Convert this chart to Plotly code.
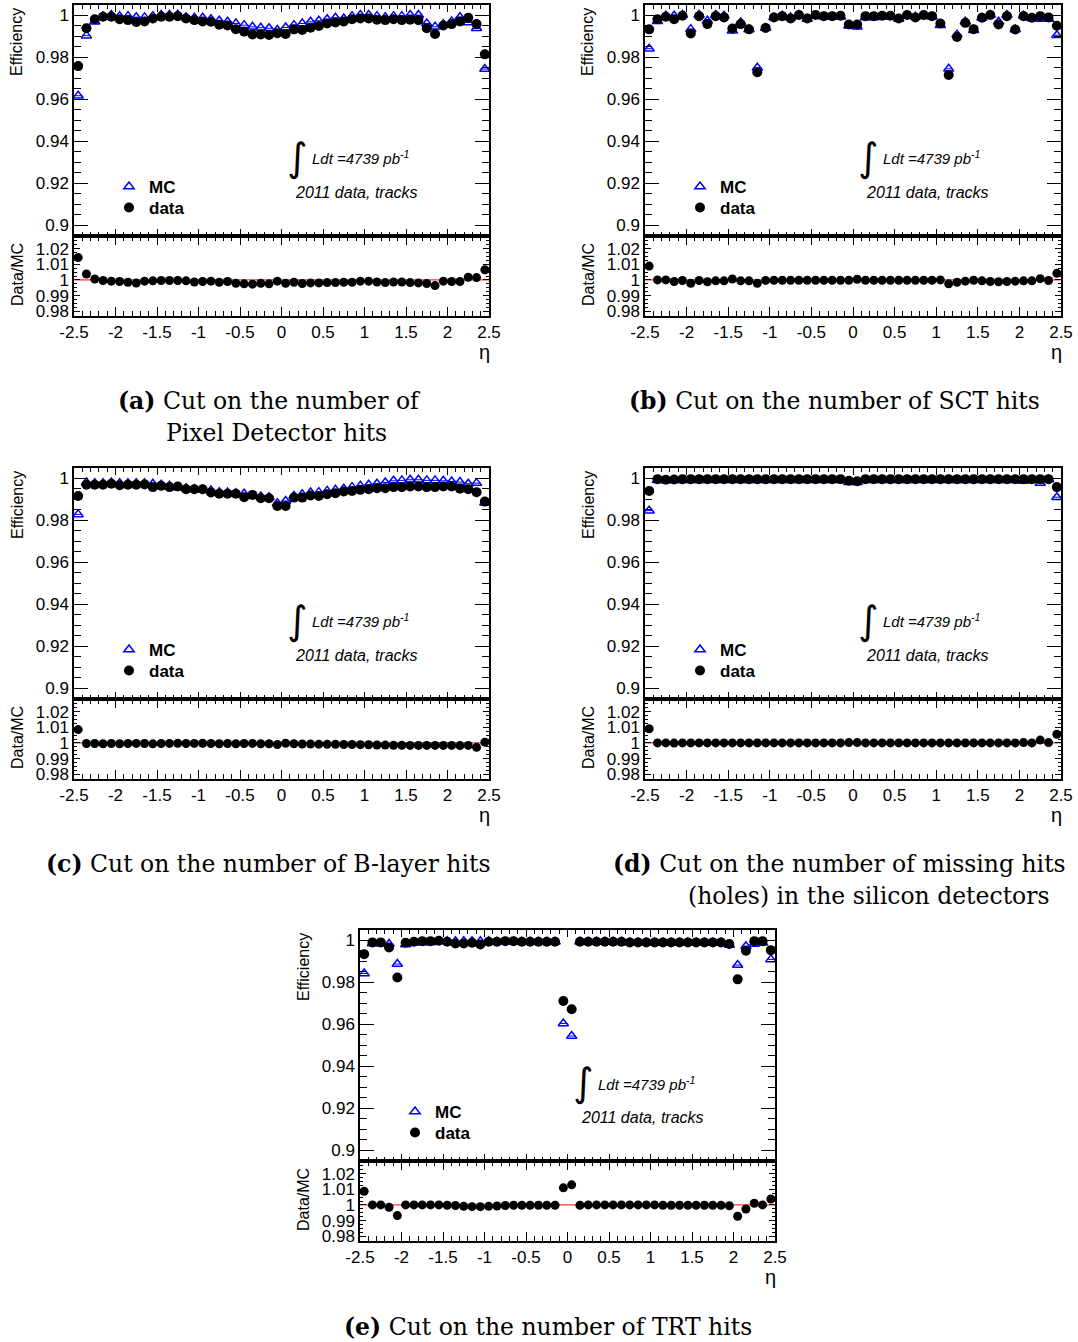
import plotly.graph_objects as go

# ---------------- data ----------------
eta = [-2.45, -2.35, -2.25, -2.15, -2.05, -1.95, -1.85, -1.75, -1.65, -1.55,
       -1.45, -1.35, -1.25, -1.15, -1.05, -0.95, -0.85, -0.75, -0.65, -0.55,
       -0.45, -0.35, -0.25, -0.15, -0.05, 0.05, 0.15, 0.25, 0.35, 0.45,
       0.55, 0.65, 0.75, 0.85, 0.95, 1.05, 1.15, 1.25, 1.35, 1.45,
       1.55, 1.65, 1.75, 1.85, 1.95, 2.05, 2.15, 2.25, 2.35, 2.45]

x_tick_vals = [-2.5, -2, -1.5, -1, -0.5, 0, 0.5, 1, 1.5, 2, 2.5]
x_tick_text = ["-2.5", "-2", "-1.5", "-1", "-0.5", "0", "0.5", "1", "1.5", "2", "2.5"]
eff_tick_vals = [0.9, 0.92, 0.94, 0.96, 0.98, 1.0]
eff_tick_text = ["0.9", "0.92", "0.94", "0.96", "0.98", "1"]
ratio_tick_vals = [0.98, 0.99, 1.0, 1.01, 1.02]
ratio_tick_text = ["0.98", "0.99", "1", "1.01", "1.02"]

# (a) Pixel hits
data_a = [0.9757, 0.9937, 0.9980, 0.9992, 0.9992, 0.9980, 0.9976, 0.9967, 0.9970, 0.9984,
          0.9992, 0.9992, 0.9995, 0.9984, 0.9976, 0.9970, 0.9968, 0.9954, 0.9950, 0.9933,
          0.9921, 0.9908, 0.9908, 0.9905, 0.9914, 0.9910, 0.9932, 0.9929, 0.9940, 0.9948,
          0.9960, 0.9965, 0.9970, 0.9980, 0.9984, 0.9984, 0.9978, 0.9976, 0.9980, 0.9976,
          0.9978, 0.9976, 0.9937, 0.9910, 0.9950, 0.9957, 0.9970, 0.9987, 0.9957, 0.9813]
mc_a = [0.9616, 0.9902, 0.9968, 0.9995, 1.0000, 0.9995, 0.9995, 0.9990, 0.9989, 0.9995,
        1.0000, 1.0000, 1.0002, 0.9990, 0.9987, 0.9987, 0.9980, 0.9973, 0.9968, 0.9960,
        0.9952, 0.9944, 0.9940, 0.9937, 0.9929, 0.9941, 0.9952, 0.9960, 0.9968, 0.9973,
        0.9980, 0.9987, 0.9984, 0.9995, 1.0000, 1.0000, 0.9995, 0.9990, 0.9995, 0.9995,
        1.0000, 1.0000, 0.9960, 0.9944, 0.9957, 0.9970, 0.9990, 0.9965, 0.9937, 0.9743]
ratio_a = [1.0143, 1.0038, 1.0006, 0.9996, 0.9992, 0.9990, 0.9985, 0.9980, 0.9992, 0.9994,
           0.9996, 0.9996, 0.9996, 0.9994, 0.9987, 0.9990, 0.9992, 0.9985, 0.9990, 0.9979,
           0.9975, 0.9973, 0.9979, 0.9975, 0.9992, 0.9979, 0.9985, 0.9977, 0.9981, 0.9981,
           0.9983, 0.9983, 0.9985, 0.9985, 0.9992, 0.9992, 0.9987, 0.9983, 0.9987, 0.9987,
           0.9983, 0.9981, 0.9977, 0.9964, 0.9992, 0.9990, 0.9990, 1.0017, 1.0015, 1.0065]

# (b) SCT hits
data_b = [0.9932, 0.9980, 0.9992, 0.9980, 0.9997, 0.9912, 0.9995, 0.9957, 0.9995, 0.9989,
          0.9936, 0.9957, 0.9932, 0.9728, 0.9939, 0.9989, 0.9995, 0.9984, 1.0000, 0.9984,
          1.0000, 0.9995, 0.9995, 0.9997, 0.9955, 0.9955, 0.9995, 0.9995, 0.9997, 0.9997,
          0.9984, 1.0000, 0.9989, 1.0000, 0.9995, 0.9960, 0.9715, 0.9896, 0.9963, 0.9933,
          0.9987, 1.0000, 0.9955, 0.9995, 0.9931, 0.9995, 0.9987, 0.9995, 0.9989, 0.9949]
mc_b = [0.9840, 0.9971, 0.9997, 0.9997, 1.0000, 0.9933, 1.0000, 0.9973, 1.0000, 0.9997,
        0.9925, 0.9965, 0.9931, 0.9749, 0.9939, 0.9989, 0.9997, 0.9989, 1.0000, 0.9981,
        0.9997, 0.9992, 0.9992, 0.9992, 0.9949, 0.9944, 0.9989, 0.9989, 0.9992, 0.9992,
        0.9981, 0.9997, 0.9992, 0.9997, 0.9992, 0.9952, 0.9744, 0.9907, 0.9968, 0.9928,
        0.9987, 1.0000, 0.9968, 1.0000, 0.9931, 0.9997, 0.9984, 0.9981, 0.9981, 0.9904]
ratio_b = [1.0088, 1.0000, 1.0000, 0.9990, 0.9996, 0.9979, 0.9996, 0.9988, 0.9994, 0.9994,
           1.0006, 0.9994, 0.9994, 0.9979, 0.9997, 0.9998, 0.9998, 0.9998, 0.9998, 0.9998,
           0.9998, 0.9998, 0.9998, 0.9998, 0.9998, 1.0004, 0.9998, 0.9998, 0.9998, 0.9998,
           0.9998, 0.9998, 0.9998, 0.9998, 0.9998, 1.0000, 0.9975, 0.9985, 0.9992, 0.9998,
           0.9994, 0.9990, 0.9988, 0.9990, 0.9992, 0.9994, 0.9994, 1.0008, 0.9996, 1.0042]

# (c) B-layer hits
data_c = [0.9915, 0.9968, 0.9968, 0.9968, 0.9973, 0.9966, 0.9968, 0.9968, 0.9970, 0.9957,
          0.9963, 0.9957, 0.9960, 0.9947, 0.9947, 0.9947, 0.9931, 0.9925, 0.9925, 0.9925,
          0.9909, 0.9920, 0.9904, 0.9904, 0.9867, 0.9867, 0.9907, 0.9907, 0.9917, 0.9915,
          0.9923, 0.9928, 0.9936, 0.9939, 0.9944, 0.9947, 0.9952, 0.9952, 0.9957, 0.9957,
          0.9960, 0.9960, 0.9957, 0.9957, 0.9960, 0.9960, 0.9949, 0.9947, 0.9933, 0.9888]
mc_c = [0.9827, 0.9979, 0.9976, 0.9976, 0.9979, 0.9976, 0.9976, 0.9976, 0.9976, 0.9973,
        0.9968, 0.9963, 0.9955, 0.9952, 0.9947, 0.9944, 0.9941, 0.9933, 0.9931, 0.9928,
        0.9925, 0.9915, 0.9912, 0.9909, 0.9880, 0.9891, 0.9915, 0.9923, 0.9931, 0.9933,
        0.9939, 0.9944, 0.9949, 0.9957, 0.9963, 0.9968, 0.9973, 0.9979, 0.9987, 0.9989,
        0.9992, 0.9992, 0.9989, 0.9989, 0.9987, 0.9984, 0.9981, 0.9973, 0.9976, 0.9883]
ratio_c = [1.0085, 0.9996, 0.9996, 0.9995, 0.9996, 0.9995, 0.9996, 0.9997, 0.9996, 0.9994,
           0.9996, 0.9997, 0.9998, 0.9996, 0.9997, 0.9998, 0.9996, 0.9995, 0.9996, 0.9995,
           0.9996, 0.9997, 0.9995, 0.9995, 0.9990, 0.9998, 0.9995, 0.9993, 0.9993, 0.9992,
           0.9991, 0.9991, 0.9990, 0.9990, 0.9989, 0.9988, 0.9987, 0.9986, 0.9985, 0.9985,
           0.9984, 0.9984, 0.9984, 0.9984, 0.9984, 0.9984, 0.9983, 0.9984, 0.9972, 1.0005]

# (d) missing silicon hits (holes)
data_d = [0.9939, 0.9995, 0.9992, 0.9993, 0.9995, 0.9995, 0.9995, 0.9995, 0.9995, 0.9995,
          0.9995, 0.9995, 0.9995, 0.9995, 0.9995, 0.9995, 0.9995, 0.9995, 0.9995, 0.9995,
          0.9995, 0.9995, 0.9995, 0.9995, 0.9987, 0.9985, 0.9995, 0.9995, 0.9995, 0.9995,
          0.9995, 0.9995, 0.9995, 0.9995, 0.9995, 0.9995, 0.9995, 0.9995, 0.9995, 0.9995,
          0.9995, 0.9995, 0.9995, 0.9995, 0.9995, 0.9995, 0.9995, 0.9995, 0.9995, 0.9957]
mc_d = [0.9845, 0.9990, 0.9989, 0.9990, 0.9990, 0.9990, 0.9990, 0.9990, 0.9990, 0.9990,
        0.9990, 0.9990, 0.9990, 0.9990, 0.9990, 0.9990, 0.9990, 0.9990, 0.9990, 0.9990,
        0.9990, 0.9990, 0.9990, 0.9990, 0.9980, 0.9980, 0.9990, 0.9990, 0.9990, 0.9990,
        0.9990, 0.9990, 0.9990, 0.9990, 0.9990, 0.9990, 0.9990, 0.9990, 0.9990, 0.9990,
        0.9990, 0.9990, 0.9990, 0.9990, 0.9990, 0.9986, 0.9990, 0.9976, 0.9993, 0.9909]
ratio_d = [1.0090, 1.0000, 1.0000, 0.9999, 1.0000, 1.0000, 1.0000, 1.0000, 1.0000, 1.0000,
           1.0000, 1.0000, 1.0000, 1.0000, 1.0000, 1.0000, 1.0000, 1.0000, 1.0000, 1.0000,
           1.0000, 1.0000, 1.0000, 1.0000, 1.0002, 1.0002, 1.0000, 1.0000, 1.0000, 1.0000,
           1.0000, 1.0000, 1.0000, 1.0000, 1.0000, 1.0000, 1.0000, 1.0000, 1.0000, 1.0000,
           1.0000, 1.0000, 1.0000, 1.0000, 1.0000, 1.0002, 1.0000, 1.0018, 1.0002, 1.0055]

# (e) TRT hits
data_e = [0.9933, 0.9989, 0.9989, 0.9965, 0.9822, 0.9987, 0.9992, 0.9995, 0.9995, 0.9997,
          0.9992, 0.9984, 0.9984, 0.9987, 0.9979, 0.9992, 0.9992, 0.9995, 0.9995, 0.9992,
          0.9992, 0.9992, 0.9992, 0.9992, 0.9710, 0.9671, 0.9992, 0.9992, 0.9992, 0.9992,
          0.9992, 0.9992, 0.9989, 0.9989, 0.9989, 0.9989, 0.9989, 0.9989, 0.9989, 0.9989,
          0.9989, 0.9989, 0.9989, 0.9989, 0.9981, 0.9813, 0.9949, 0.9995, 0.9995, 0.9952]
mc_e = [0.9841, 0.9984, 0.9984, 0.9981, 0.9886, 0.9979, 0.9987, 0.9989, 0.9989, 0.9994,
        0.9994, 0.9994, 0.9995, 0.9994, 0.9994, 0.9994, 0.9992, 0.9992, 0.9992, 0.9992,
        0.9992, 0.9992, 0.9992, 0.9992, 0.9603, 0.9543, 0.9992, 0.9992, 0.9992, 0.9992,
        0.9992, 0.9992, 0.9989, 0.9989, 0.9989, 0.9989, 0.9989, 0.9989, 0.9989, 0.9989,
        0.9989, 0.9989, 0.9989, 0.9989, 0.9976, 0.9881, 0.9971, 0.9981, 0.9987, 0.9908]
ratio_e = [1.0087, 1.0000, 1.0000, 0.9985, 0.9932, 1.0000, 1.0000, 1.0000, 1.0000, 1.0000,
           0.9998, 0.9996, 0.9991, 0.9989, 0.9989, 0.9991, 0.9993, 0.9996, 0.9998, 0.9998,
           0.9998, 0.9998, 0.9998, 0.9998, 1.0109, 1.0128, 0.9998, 1.0000, 1.0000, 1.0000,
           1.0000, 1.0000, 1.0000, 1.0000, 1.0000, 1.0000, 0.9998, 0.9998, 0.9998, 0.9998,
           0.9998, 0.9998, 0.9998, 0.9998, 0.9995, 0.9928, 0.9974, 1.0011, 1.0000, 1.0038]

captions_a = ["<b>(a)</b> Cut on the number of", "Pixel Detector hits"]
captions_b = ["<b>(b)</b> Cut on the number of SCT hits"]
captions_c = ["<b>(c)</b> Cut on the number of B-layer hits"]
captions_d = ["<b>(d)</b> Cut on the number of missing hits", "(holes) in the silicon detectors"]
captions_e = ["<b>(e)</b> Cut on the number of TRT hits"]

# ---------------- layout helpers ----------------
W, H = 1078, 1342
SANS = "Liberation Sans, Arial, sans-serif"
SERIF = "DejaVu Serif, serif"


def fx(p):
    return p / W


def fy(p):
    return 1 - p / H


panels = [
    dict(left=74, right=489, top=5, mid=236, bottom=316, data=data_a, mc=mc_a, ratio=ratio_a,
         cap=captions_a, cap_pos=[(116, 401), (164, 433)]),
    dict(left=645, right=1061, top=5, mid=236, bottom=316, data=data_b, mc=mc_b, ratio=ratio_b,
         cap=captions_b, cap_pos=[(627, 401)]),
    dict(left=74, right=489, top=468, mid=699, bottom=779, data=data_c, mc=mc_c, ratio=ratio_c,
         cap=captions_c, cap_pos=[(44, 864)]),
    dict(left=645, right=1061, top=468, mid=699, bottom=779, data=data_d, mc=mc_d, ratio=ratio_d,
         cap=captions_d, cap_pos=[(611, 864), (686, 896)]),
    dict(left=360, right=775, top=930, mid=1161, bottom=1241, data=data_e, mc=mc_e, ratio=ratio_e,
         cap=captions_e, cap_pos=[(342, 1327)]),
]

fig = go.Figure()
layout = dict(width=W, height=H,
              margin=dict(l=0, r=0, t=0, b=0, pad=0, autoexpand=False),
              paper_bgcolor="white", plot_bgcolor="white", showlegend=True)
annotations = []
shapes = []

tickfont = dict(family=SANS, size=17, color="black")

for k, p in enumerate(panels):
    im = 2 * k + 1
    ir = 2 * k + 2
    xm = "x" if im == 1 else f"x{im}"
    ym = "y" if im == 1 else f"y{im}"
    xr, yr = f"x{ir}", f"y{ir}"
    xm_key = "xaxis" if im == 1 else f"xaxis{im}"
    ym_key = "yaxis" if im == 1 else f"yaxis{im}"
    xr_key, yr_key = f"xaxis{ir}", f"yaxis{ir}"
    leg_mc = "legend" if k == 0 else f"legend{2 * k + 1}"
    leg_data = f"legend{2 * k + 2}"

    common = dict(showline=True, linecolor="black", linewidth=1.5, mirror="allticks",
                  showgrid=False, zeroline=False, ticks="inside", tickcolor="black",
                  tickwidth=1, tickfont=tickfont, tickmode="array", automargin=False)

    layout[xm_key] = dict(common, domain=[fx(p["left"]), fx(p["right"])], range=[-2.5, 2.5],
                          anchor=ym, tickvals=x_tick_vals, showticklabels=False, ticklen=7,
                          minor=dict(ticks="inside", ticklen=4, tick0=-2.5, dtick=0.1,
                                     tickcolor="black", tickwidth=1))
    layout[ym_key] = dict(common, domain=[fy(p["mid"]), fy(p["top"])], range=[0.8948, 1.0048],
                          anchor=xm, tickvals=eff_tick_vals, ticktext=eff_tick_text, ticklen=14,
                          minor=dict(ticks="inside", ticklen=7, tick0=0.9, dtick=0.005,
                                     tickcolor="black", tickwidth=1))
    layout[xr_key] = dict(common, domain=[fx(p["left"]), fx(p["right"])], range=[-2.5, 2.5],
                          anchor=yr, tickvals=x_tick_vals, ticktext=x_tick_text, ticklen=9,
                          minor=dict(ticks="inside", ticklen=5, tick0=-2.5, dtick=0.1,
                                     tickcolor="black", tickwidth=1))
    layout[yr_key] = dict(common, domain=[fy(p["bottom"]), fy(p["mid"])], range=[0.977, 1.028],
                          anchor=xr, tickvals=ratio_tick_vals, ticktext=ratio_tick_text, ticklen=6,
                          minor=dict(ticks="inside", ticklen=3, tick0=0.98, dtick=0.0025,
                                     tickcolor="black", tickwidth=1))

    fig.add_trace(go.Scatter(
        x=eta, y=p["mc"], xaxis=xm, yaxis=ym, mode="markers", name="<b>MC</b>", legend=leg_mc,
        marker=dict(symbol="triangle-up-open", size=9, color="#0000ff",
                    line=dict(width=1.5, color="#0000ff")),
        error_x=dict(type="constant", value=0.05, color="#0000ff", thickness=1, width=0)))
    fig.add_trace(go.Scatter(
        x=eta, y=p["data"], xaxis=xm, yaxis=ym, mode="markers", name="<b>data</b>", legend=leg_data,
        marker=dict(symbol="circle", size=10, color="black")))
    fig.add_trace(go.Scatter(
        x=eta, y=p["ratio"], xaxis=xr, yaxis=yr, mode="markers", showlegend=False,
        marker=dict(symbol="circle", size=9, color="black")))

    shapes.append(dict(type="line", xref=xr, yref=yr, x0=-2.5, x1=2.5, y0=1, y1=1,
                       line=dict(color="red", width=1), layer="below"))

    L, T, M, B, R = p["left"], p["top"], p["mid"], p["bottom"], p["right"]
    legstyle = dict(xanchor="left", yanchor="middle", bgcolor="rgba(0,0,0,0)", borderwidth=0,
                    tracegroupgap=0, font=dict(family=SANS, size=17, color="black"),
                    itemsizing="trace")
    layout[leg_mc] = dict(legstyle, x=fx(L + 35), y=fy(T + 182))
    layout[leg_data] = dict(legstyle, x=fx(L + 35), y=fy(T + 203))

    annotations += [
        dict(text="Efficiency", x=fx(L - 57), y=fy(T + 37), textangle=-90,
             font=dict(family=SANS, size=16, color="black")),
        dict(text="Data/MC", x=fx(L - 57), y=fy(M + 39), textangle=-90,
             font=dict(family=SANS, size=16, color="black")),
        dict(text="η", x=fx(R - 5), y=fy(B + 36),
             font=dict(family=SANS, size=20, color="black")),
        dict(text="∫", x=fx(L + 223), y=fy(T + 152),
             font=dict(family="DejaVu Sans", size=39, color="black")),
        dict(text="<i>Ldt =4739 pb<sup>-1</sup></i>", x=fx(L + 236), y=fy(T + 153), xanchor="left",
             font=dict(family=SANS, size=15, color="black")),
        dict(text="<i>2011 data, tracks</i>", x=fx(L + 219), y=fy(T + 187), xanchor="left",
             font=dict(family=SANS, size=16, color="black")),
    ]
    for txt, (cx, cy) in zip(p["cap"], p["cap_pos"]):
        annotations.append(dict(text=txt, x=fx(cx), y=fy(cy), xanchor="left",
                                font=dict(family=SERIF, size=23.5, color="black")))

for a in annotations:
    a.setdefault("xref", "paper")
    a.setdefault("yref", "paper")
    a.setdefault("showarrow", False)
    a.setdefault("xanchor", "center")
    a.setdefault("yanchor", "middle")

layout["annotations"] = annotations
layout["shapes"] = shapes
fig.update_layout(**layout)
fig.write_html("out.html")
